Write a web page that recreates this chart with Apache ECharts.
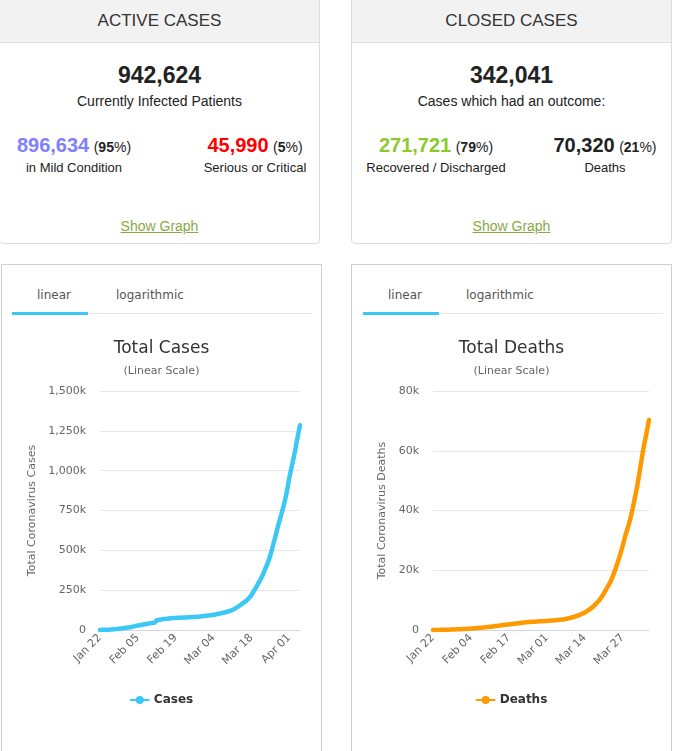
<!DOCTYPE html>
<html>
<head>
<meta charset="utf-8">
<title>Coronavirus cases</title>
<script src="https://cdn.jsdelivr.net/npm/echarts@6/dist/echarts.min.js"></script>
<style>
  body { margin: 0; background: #fff; width: 674px; height: 751px; overflow: hidden; position: relative; font-family: "Liberation Sans", Arial, sans-serif; color: #222; }
  .box { position: absolute; top: -1px; width: 319px; height: 243px; border: 1px solid #ddd; border-radius: 0 0 4px 4px; background: #fff; }
  .box-head { position: absolute; left: 0; top: 0; width: 100%; height: 42px; background: #f2f2f2; border-bottom: 1px solid #ddd; text-align: center; line-height: 42px; font-size: 17px; color: #333; }
  .line { position: absolute; text-align: center; white-space: nowrap; }
  .big { font-size: 23px; font-weight: bold; color: #222; line-height: 26px; }
  .sub { font-size: 14px; color: #222; line-height: 18px; }
  .num { font-size: 20px; font-weight: bold; line-height: 24px; }
  .pct { font-size: 14px; font-weight: normal; color: #222; }
  .pct b { font-weight: bold; }
  .lbl { font-size: 13px; color: #222; line-height: 16px; }
  .link { font-size: 14px; color: #8aa844; text-decoration: underline; line-height: 18px; }
  .panel { position: absolute; top: 264px; width: 319px; height: 500px; border: 1px solid #d0d0d0; background: #fff; }
  .tab { position: absolute; top: 23px; font-family: "DejaVu Sans", sans-serif; font-size: 12px; color: #555; }
  .tabline { position: absolute; top: 48px; height: 1px; background: #e8e8e8; }
  .tabactive { position: absolute; top: 47px; height: 3px; background: #3cc8f4; }
  .chart { position: absolute; top: 56px; left: 0; width: 319px; height: 431px; }
</style>
</head>
<body>

<div class="box" style="left:-1px;">
  <div class="box-head">ACTIVE CASES</div>
  <div class="line big" style="left:0; width:319px; top:62px;">942,624</div>
  <div class="line sub" style="left:0; width:319px; top:92px;">Currently Infected Patients</div>
  <div class="line" style="left:-6px; width:160px; top:133px;"><span class="num" style="color:#8080ff;">896,634</span> <span class="pct">(<b>95</b>%)</span></div>
  <div class="line lbl" style="left:-6px; width:160px; top:160px;">in Mild Condition</div>
  <div class="line" style="left:175px; width:160px; top:133px;"><span class="num" style="color:#ff0000;">45,990</span> <span class="pct">(<b>5</b>%)</span></div>
  <div class="line lbl" style="left:175px; width:160px; top:160px;">Serious or Critical</div>
  <div class="line link" style="left:0; width:319px; top:217px;">Show Graph</div>
</div>

<div class="box" style="left:351px;">
  <div class="box-head">CLOSED CASES</div>
  <div class="line big" style="left:0; width:319px; top:62px;">342,041</div>
  <div class="line sub" style="left:0; width:319px; top:92px;">Cases which had an outcome:</div>
  <div class="line" style="left:4px; width:160px; top:133px;"><span class="num" style="color:#8aca2b;">271,721</span> <span class="pct">(<b>79</b>%)</span></div>
  <div class="line lbl" style="left:4px; width:160px; top:160px;">Recovered / Discharged</div>
  <div class="line" style="left:173px; width:160px; top:133px;"><span class="num" style="color:#222;">70,320</span> <span class="pct">(<b>21</b>%)</span></div>
  <div class="line lbl" style="left:173px; width:160px; top:160px;">Deaths</div>
  <div class="line link" style="left:0; width:319px; top:217px;">Show Graph</div>
</div>

<div class="panel" style="left:1px;">
  <div class="tab" style="left:35px;">linear</div>
  <div class="tab" style="left:114px;">logarithmic</div>
  <div class="tabline" style="left:86px; width:224px;"></div>
  <div class="tabactive" style="left:10px; width:76px;"></div>
  <div id="cases-chart" class="chart"></div>
</div>

<div class="panel" style="left:351px;">
  <div class="tab" style="left:36px;">linear</div>
  <div class="tab" style="left:114px;">logarithmic</div>
  <div class="tabline" style="left:87px; width:224px;"></div>
  <div class="tabactive" style="left:11px; width:76px;"></div>
  <div id="deaths-chart" class="chart"></div>
</div>

<script>
// Jan 22 .. Apr 05
const dates = [
  'Jan 22', 'Jan 23', 'Jan 24', 'Jan 25', 'Jan 26', 'Jan 27', 'Jan 28', 'Jan 29', 'Jan 30', 'Jan 31',
  'Feb 01', 'Feb 02', 'Feb 03', 'Feb 04', 'Feb 05', 'Feb 06', 'Feb 07', 'Feb 08', 'Feb 09', 'Feb 10',
  'Feb 11', 'Feb 12', 'Feb 13', 'Feb 14', 'Feb 15', 'Feb 16', 'Feb 17', 'Feb 18', 'Feb 19', 'Feb 20',
  'Feb 21', 'Feb 22', 'Feb 23', 'Feb 24', 'Feb 25', 'Feb 26', 'Feb 27', 'Feb 28', 'Feb 29',
  'Mar 01', 'Mar 02', 'Mar 03', 'Mar 04', 'Mar 05', 'Mar 06', 'Mar 07', 'Mar 08', 'Mar 09', 'Mar 10',
  'Mar 11', 'Mar 12', 'Mar 13', 'Mar 14', 'Mar 15', 'Mar 16', 'Mar 17', 'Mar 18', 'Mar 19', 'Mar 20',
  'Mar 21', 'Mar 22', 'Mar 23', 'Mar 24', 'Mar 25', 'Mar 26', 'Mar 27', 'Mar 28', 'Mar 29', 'Mar 30', 'Mar 31',
  'Apr 01', 'Apr 02', 'Apr 03', 'Apr 04', 'Apr 05'
]

const totalCases = [
  580, 845, 1317, 2015, 2800, 4581, 6058, 7813, 9823, 11950,
  14553, 17391, 20630, 24545, 28266, 31439, 34876, 37552, 40553, 43099,
  45134, 59287, 64438, 67100, 69197, 71329, 73332, 75184, 75700, 76677,
  77673, 78651, 79205, 80087, 80828, 81820, 83112, 84615, 86604,
  88585, 90443, 93016, 95314, 98425, 102050, 106099, 109991, 114381, 118948,
  126214, 134576, 145483, 156653, 169593, 182490, 198238, 218822, 246417, 275786,
  305036, 336953, 378231, 418041, 467653, 529591, 593291, 660706, 720117, 782365, 857487,
  950000, 1030000, 1110000, 1200000, 1284665
]

const totalDeaths = [
  17, 25, 41, 56, 80, 106, 132, 170, 213, 259,
  304, 362, 426, 492, 565, 638, 724, 813, 910, 1018,
  1115, 1261, 1383, 1526, 1669, 1775, 1873, 2009, 2126, 2247,
  2360, 2460, 2618, 2699, 2763, 2800, 2858, 2923, 2977,
  3050, 3117, 3202, 3285, 3387, 3494, 3599, 3827, 4025, 4296,
  4628, 4981, 5428, 5833, 6520, 7162, 7979, 8951, 10030, 11385,
  13031, 14755, 16558, 19033, 21849, 24829, 28282, 31890, 35058, 38943, 43406,
  48425, 54265, 60241, 65200, 70320
]

const casesTicks = { max: 1500000, interval: 250000 }
const deathsTicks = { max: 80000, interval: 20000 }

const chartFont = '"DejaVu Sans", sans-serif'

function kLabel (v) {
  if (v === 0) return '0'
  return (v / 1000).toLocaleString('en-US') + 'k'
}

function buildOption (cfg) {
  return {
    animation: false,
    textStyle: { fontFamily: chartFont },
    title: {
      text: cfg.title,
      subtext: '(Linear Scale)',
      left: 'center',
      top: 13,
      itemGap: 7,
      textStyle: { fontFamily: chartFont, fontSize: 17, fontWeight: 'normal', color: '#333', lineHeight: 20 },
      subtextStyle: { fontFamily: chartFont, fontSize: 11, color: '#666' }
    },
    legend: {
      data: [cfg.name],
      top: 368,
      left: 'center',
      itemWidth: 18,
      itemHeight: 10,
      itemGap: 6,
      textStyle: { fontFamily: chartFont, fontSize: 12, fontWeight: 'bold', color: '#333' }
    },
    grid: { left: cfg.left, right: cfg.right, top: 70, bottom: 122 },
    xAxis: {
      type: 'category',
      data: dates,
      boundaryGap: false,
      axisLine: { lineStyle: { color: '#ccd6eb' } },
      axisTick: { show: false },
      axisLabel: { interval: cfg.labelEvery - 1, rotate: 45, fontSize: 11, color: '#666', margin: 6, fontFamily: chartFont }
    },
    yAxis: {
      type: 'value',
      min: 0,
      max: cfg.ticks.max,
      interval: cfg.ticks.interval,
      name: cfg.axisName,
      nameLocation: 'middle',
      nameGap: cfg.nameGap,
      nameTextStyle: { fontFamily: chartFont, fontSize: 11, color: '#666' },
      axisLabel: { formatter: kLabel, fontSize: 11, color: '#666', margin: 14, fontFamily: chartFont },
      splitLine: { lineStyle: { color: '#e6e6e6' } }
    },
    series: [
      {
        name: cfg.name,
        type: 'line',
        data: cfg.data,
        smooth: 0.5,
        symbol: 'circle',
        symbolSize: 8,
        showSymbol: false,
        itemStyle: { color: cfg.color },
        lineStyle: { width: 4.5, color: cfg.color, cap: 'round', join: 'round' }
      }
    ]
  }
}

let casesChart = echarts.init(document.getElementById('cases-chart'))
casesChart.setOption(buildOption({
  title: 'Total Cases',
  name: 'Cases',
  axisName: 'Total Coronavirus Cases',
  data: totalCases,
  ticks: casesTicks,
  color: '#3cc8f4',
  left: 98,
  right: 21,
  nameGap: 59,
  labelEvery: 14
}))

let deathsChart = echarts.init(document.getElementById('deaths-chart'))
deathsChart.setOption(buildOption({
  title: 'Total Deaths',
  name: 'Deaths',
  axisName: 'Total Coronavirus Deaths',
  data: totalDeaths,
  ticks: deathsTicks,
  color: '#ff9900',
  left: 81,
  right: 22,
  nameGap: 44,
  labelEvery: 13
}))
</script>
</body>
</html>
